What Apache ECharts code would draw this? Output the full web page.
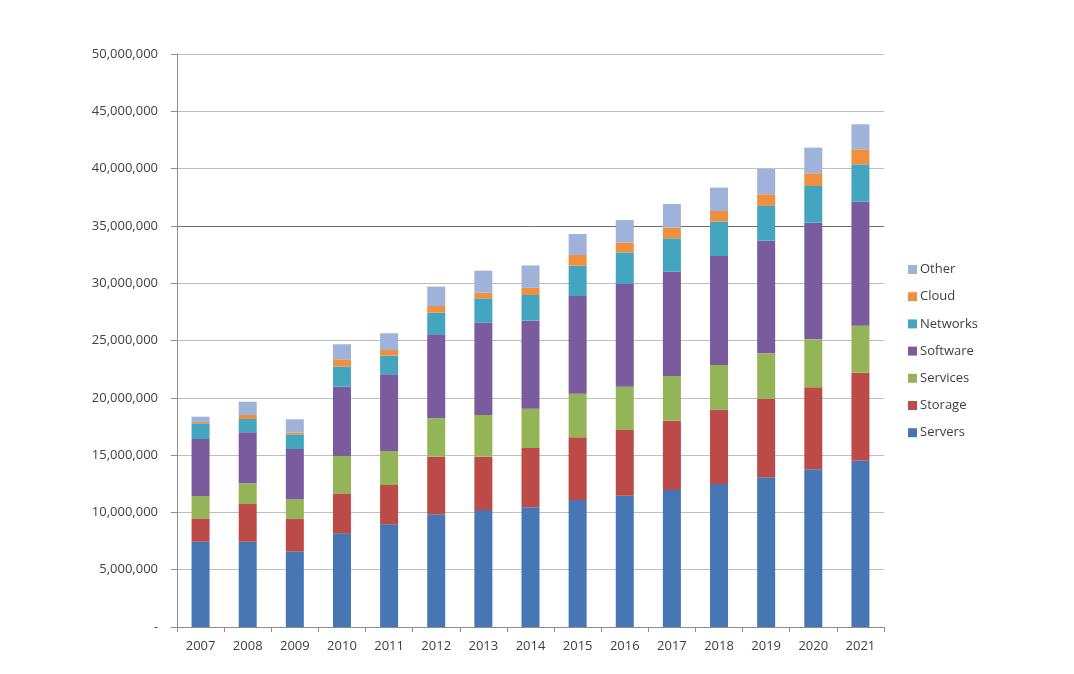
<!DOCTYPE html>
<html>
<head>
<meta charset="utf-8">
<script src="https://cdn.jsdelivr.net/npm/echarts@6/dist/echarts.min.js"></script>
<style>
html,body{margin:0;padding:0;background:#fff;}
#chart{width:1074px;height:674px;}
</style>
</head>
<body>
<div id="chart"></div>
<script>
const years = ['2007','2008','2009','2010','2011','2012','2013','2014','2015','2016','2017','2018','2019','2020','2021'];
const seriesNames = ['Servers','Storage','Services','Software','Networks','Cloud','Other'];
const servers  = [7440000,7440000,6570000,8170000,8960000,9830000,10210000,10450000,11080000,11460000,11950000,12480000,13060000,13760000,14510000];
const storage  = [2040000,3290000,2850000,3490000,3430000,5030000,4650000,5170000,5470000,5730000,6050000,6460000,6840000,7160000,7680000];
const services = [1950000,1810000,1720000,3260000,2970000,3350000,3640000,3430000,3810000,3780000,3900000,3920000,3980000,4180000,4100000];
const software = [4970000,4450000,4390000,6050000,6690000,7330000,8050000,7680000,8520000,8960000,9100000,9510000,9830000,10180000,10820000];
const networks = [1370000,1160000,1280000,1750000,1630000,1890000,2130000,2240000,2650000,2760000,2920000,3000000,3030000,3200000,3260000];
const cloud    = [130000,350000,150000,640000,490000,580000,490000,630000,930000,850000,930000,930000,1020000,1110000,1310000];
const other    = [450000,1160000,1160000,1310000,1460000,1690000,1920000,1950000,1830000,1970000,2060000,2040000,2210000,2240000,2190000];
const colors = ['#4677B4','#BC4A47','#94B557','#7A5C9E','#43A5C0','#F08F3E','#9FB2DA'];
const values = [servers, storage, services, software, networks, cloud, other];

const chart = echarts.init(document.getElementById('chart'));
const gridColors = ['#BEBEBE','#BEBEBE','#BEBEBE','#BEBEBE','#BEBEBE','#BEBEBE','#BEBEBE','#6E6E6E','#BEBEBE','#BEBEBE','#BEBEBE'];
chart.setOption({
  backgroundColor: '#fff',
  animation: false,
  grid: {left: 177, right: 190, top: 54, bottom: 47, containLabel: false},
  legend: {
    orient: 'vertical',
    left: 903,
    top: 258,
    itemWidth: 9,
    itemHeight: 9,
    itemGap: 14.2,
    icon: 'rect',
    data: seriesNames.slice().reverse(),
    textStyle: {fontFamily: 'Open Sans, sans-serif', fontSize: 13, color: '#404040', padding: [0,0,0,-2]}
  },
  xAxis: {
    type: 'category',
    data: years,
    axisLine: {lineStyle: {color: '#8C8C8C', width: 1}},
    axisTick: {show: true, length: 5, alignWithLabel: false, lineStyle: {color: '#8C8C8C'}},
    axisLabel: {fontFamily: 'Open Sans, sans-serif', fontSize: 13, color: '#404040', margin: 13}
  },
  yAxis: {
    type: 'value',
    min: 0, max: 50000000, interval: 5000000,
    axisLine: {show: true, lineStyle: {color: '#8C8C8C', width: 1}},
    axisTick: {show: true, length: 6, lineStyle: {color: '#8C8C8C'}},
    splitLine: {show: true, lineStyle: {color: gridColors, width: 1}},
    axisLabel: {
      fontFamily: 'Open Sans, sans-serif', fontSize: 13, color: '#404040', margin: 19,
      formatter: v => v === 0 ? '-' : v.toLocaleString('en-US')
    }
  },
  series: seriesNames.map((n, i) => ({
    name: n,
    type: 'bar',
    stack: 'total',
    barWidth: 18,
    itemStyle: {color: colors[i]},
    data: values[i]
  }))
});
</script>
</body>
</html>
